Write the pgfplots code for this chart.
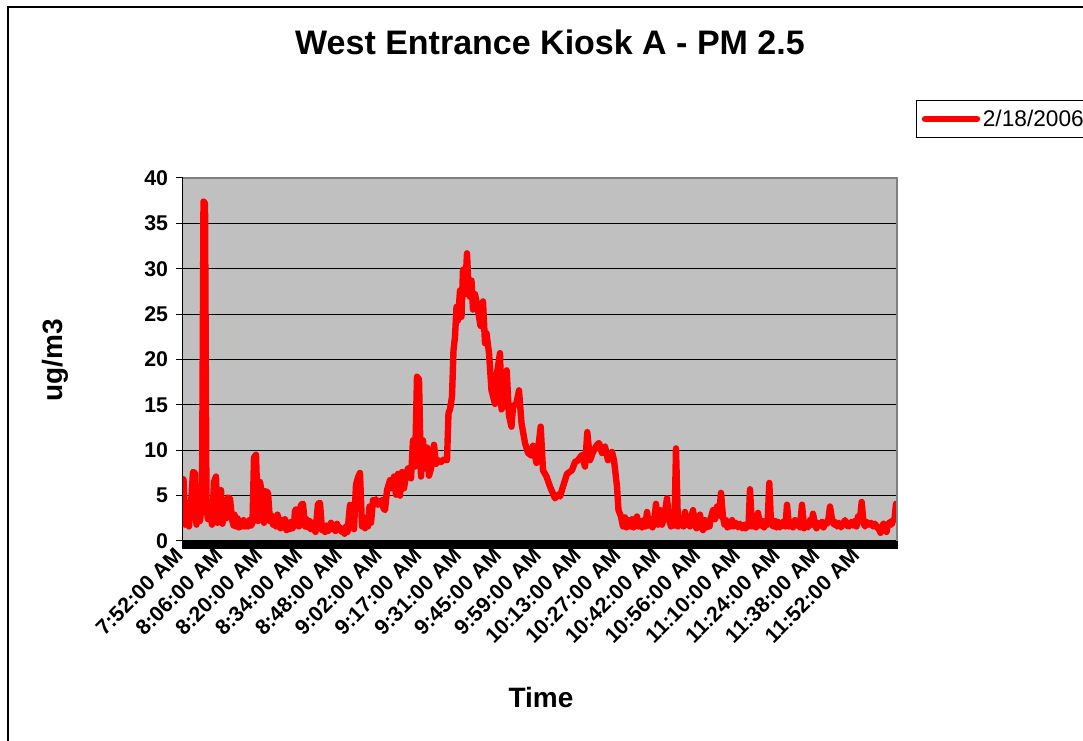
\documentclass[border=0pt]{standalone}
\usepackage{fontspec}
\setmainfont{Liberation Sans}
\usepackage{pgfplots}
\pgfplotsset{compat=1.18}
\usepackage{pgfplotstable}
\definecolor{plotbg}{HTML}{C0C0C0}
\definecolor{pmred}{HTML}{FF0000}
\definecolor{edgegray}{HTML}{808080}

% idx = sample position along the category axis, val = PM 2.5 (ug/m3)
\pgfplotstableread{
idx val
0.5 6.8
2 1.8
4 4.2
6 1.6
8 4.0
10 7.6
12 7.5
13.5 1.8
15 4.8
17 2.2
19 4.5
20.5 37.4
22 37.2
23.5 3.6
25 2.4
27 3.4
29 1.8
31 6.5
33 7.1
34.5 2.0
36 5.0
38 5.6
39.5 1.9
41 4.5
43 2.5
45 4.8
47 4.7
49 2.4
50.5 1.7
51.5 2.9
53 1.6
54.5 2.5
56 1.5
57.5 2.2
59 1.6
60.5 2.3
62 1.6
63.5 2.1
65 1.6
66.5 2.3
68 1.7
69.5 2.0
71 9.2
73 9.5
75 2.2
77 6.5
79 5.2
81 2.0
83 5.5
85 5.3
87 2.2
88.5 2.8
90 1.8
91.5 2.6
93 1.6
94.5 2.9
96 1.8
97.5 1.4
99 2.3
100.5 1.5
102 2.4
103.5 1.2
105 2.0
106.5 1.3
108 2.1
109.5 1.4
111 1.7
112 3.4
114 3.5
116 1.6
118 4.0
120 4.1
122 1.6
123.5 2.4
125 1.5
126.5 2.2
128 1.3
129.5 2.0
131 1.3
132.5 1.0
135 4.1
137 4.2
139 1.2
140.5 1.6
142 1.0
143.5 1.7
145 1.1
146.5 1.4
148 2.0
149.5 1.3
151 1.7
152.5 1.1
154 1.9
155.5 1.3
157 1.5
158.5 1.0
160 1.3
161.5 0.8
163 1.6
164.5 1.0
167 4.0
169 3.9
171 1.3
173 6.2
175 7.0
177 7.5
179 1.6
180.5 2.6
182 1.4
183.5 2.4
185 1.6
186.5 3.8
188 2.0
190 4.5
191.5 4.3
193 4.6
195 4.0
196.5 4.4
198 4.2
199 4.5
200.5 3.6
202 3.4
204 5.6
207 6.7
209 5.8
211 7.1
213 5.1
215 7.4
217 5.0
219 7.6
221 5.8
223 7.3
225 8.0
228 6.9
230 11.1
232 8.2
234 18.1
236 17.8
238 7.1
240 11.1
242 8.0
244 10.3
246 7.2
248 8.0
251 10.6
253 8.5
255 8.9
258 8.7
261 9.0
264 8.9
265.5 14.1
267 14.5
269 15.9
270.5 21.0
272 22.5
273.5 25.8
275 24.3
277 27.6
278.5 24.7
280 29.9
282 27.2
284 31.7
285.5 28.0
287 26.9
288.5 28.7
290 25.5
292 27.2
295 25.5
297.5 23.7
300 26.4
302 21.8
303.5 22.9
306 20.7
308.5 16.6
312 15.1
313.5 18.1
317 20.7
318.5 14.5
322 15.6
323.7 18.8
326 13.8
328.5 12.6
330 14.8
333.5 15.2
336 16.6
338.5 13.0
342 10.8
345 9.7
348.5 9.4
350 10.5
353.5 8.6
357.7 12.6
360 7.8
363.5 7.1
367 6.0
372 4.7
375 5.1
377 4.9
380 6.0
384 7.4
389 7.8
392 8.7
395 8.9
399 9.5
402 8.2
404.3 12.0
407 8.9
410 9.8
414 10.6
416 10.8
419 9.7
422 10.4
425 8.9
429 9.8
431 8.9
434 6.0
435.5 3.4
438 2.7
440 1.6
442 2.6
443.5 1.5
445 2.3
447 1.6
449 2.4
450.5 1.5
452 2.0
454 2.7
455.5 1.6
457 2.2
459 1.5
461 2.3
462.5 1.6
464 3.2
466 1.7
468 2.4
469.5 1.5
471 2.0
473 4.1
475 1.8
477 3.4
479 1.8
481 2.6
482.5 3.6
484 4.7
486 2.4
488 1.6
490 2.6
491.5 1.7
493 10.2
495 1.6
497 2.3
499 2.6
500.5 1.6
502 3.2
504 1.8
505.5 2.6
507 1.6
509 2.9
510 3.4
512 1.8
513.5 1.4
515 2.2
517 2.9
518.5 1.6
520 1.2
522 2.3
523.5 1.5
525 2.1
526.5 1.6
528 2.6
530 3.4
532 2.4
534 3.8
536 2.8
538 5.3
540 2.6
541.5 1.8
543 2.3
544.5 1.5
546 2.0
547.5 1.6
549 2.3
551 1.6
553 2.0
555 1.5
557 1.9
559 1.4
561 1.8
562.5 1.4
564 1.9
565.5 1.6
567 5.7
569 1.6
571 2.2
573 1.5
575 3.1
577 1.7
579 2.2
581 1.5
583 2.2
584.5 1.8
586.3 6.4
588 2.0
590 1.6
592 2.2
593.5 1.5
595 2.1
597 1.5
599 1.9
601 2.2
602.5 1.6
604 4.0
606 1.6
608 2.1
610 1.5
612 2.3
613.5 1.7
615 2.0
617 1.5
619 4.0
621 1.4
623 1.8
625 1.5
627 2.3
628.5 1.8
630 3.0
632 1.8
633.5 1.4
635 2.0
637 1.7
639 2.1
640.5 1.5
642 2.0
644 1.9
645.5 2.5
647 3.8
649 2.4
651 1.8
652.5 2.1
654 1.6
656 2.0
658 1.5
660 1.9
662 2.3
664 1.7
666 1.6
668 2.1
670 1.7
672 2.2
673.5 1.6
675 2.7
677 2.4
678.7 4.3
680.5 2.0
682 1.6
684 2.1
686 1.8
688 2.0
690 1.6
692 1.9
694 1.5
696 1.3
697.5 0.9
699 1.6
700.5 1.9
702 1.3
703.5 1.0
705 1.8
707 2.1
708.5 1.8
710 2.3
711.5 2.4
713 4.1
}\pmdata

\begin{document}
\begin{tikzpicture}
\useasboundingbox (0,0) rectangle (812.25pt,555.75pt);
\fill[white] (0,0) rectangle (812.25pt,555.75pt);
\begin{scope}[x=0.75pt,y=0.75pt]
  \draw[line width=1.5pt, black] (7.5,-20) -- (7.5,734) -- (1100,734);
\end{scope}
\begin{axis}[
  name=ax,
  at={(137.25pt,150pt)}, anchor=south west,
  scale only axis, width=535.5pt, height=272.25pt,
  xmin=0, xmax=714, ymin=0, ymax=40,
  axis background/.style={fill=plotbg},
  axis x line*=bottom, axis y line*=left,
  axis line style={-, black, line width=0.75pt},
  ytick={0,5,...,40},
  ymajorgrids, major grid style={black, line width=0.75pt},
  tick align=outside,
  major tick length=5pt,
  minor tick length=6pt,
  tick style={black, line width=0.75pt},
  minor x tick style={black, line width=1.2pt},
  xtick={0,39.8,79.6,119.4,159.2,199,238.8,278.6,318.4,358.2,398,437.8,477.6,517.4,557.2,597,636.8,676.6},
  xticklabels={7:52:00 AM,8:06:00 AM,8:20:00 AM,8:34:00 AM,8:48:00 AM,9:02:00 AM,9:17:00 AM,9:31:00 AM,9:45:00 AM,9:59:00 AM,10:13:00 AM,10:27:00 AM,10:42:00 AM,10:56:00 AM,11:10:00 AM,11:24:00 AM,11:38:00 AM,11:52:00 AM},
  minor xtick={0,2.0,...,714},
  /pgf/number format/assume math mode=true,
  xticklabel style={rotate=45, anchor=east, inner sep=4pt, font=\bfseries\fontsize{16}{19}\selectfont},
  yticklabel style={inner sep=6pt, font=\bfseries\fontsize{16}{19}\selectfont},
  xlabel={Time},
  xlabel style={at={(axis description cs:0.5014,-0.4325)}, anchor=center, font=\bfseries\fontsize{21}{25}\selectfont},
  ylabel={ug/m3},
  ylabel style={at={(axis description cs:-0.1793,0.4986)}, anchor=center, font=\bfseries\fontsize{21}{25}\selectfont},
  title={West Entrance Kiosk A - PM 2.5},
  title style={at={(axis description cs:0.514,1.3526)}, anchor=center, font=\bfseries\fontsize{25.5}{30}\selectfont},
  legend style={at={(axis description cs:1.0266,1.2149)}, anchor=north west, draw=black, line width=0.75pt, fill=white, font=\fontsize{17}{20}\selectfont, inner xsep=4pt, inner ysep=5pt},
  legend cell align=left,
  legend image code/.code={\draw[#1, line cap=round] (0pt,0pt) -- (39pt,0pt);},
]
\addplot[pmred, line width=4.8pt, line join=round, line cap=round] table[x=idx,y=val]{\pmdata};
\addlegendentry{2/18/2006}
\end{axis}
\draw[edgegray, line width=1.5pt] (ax.north west) -- (ax.north east) -- (ax.south east);
\end{tikzpicture}
\end{document}
